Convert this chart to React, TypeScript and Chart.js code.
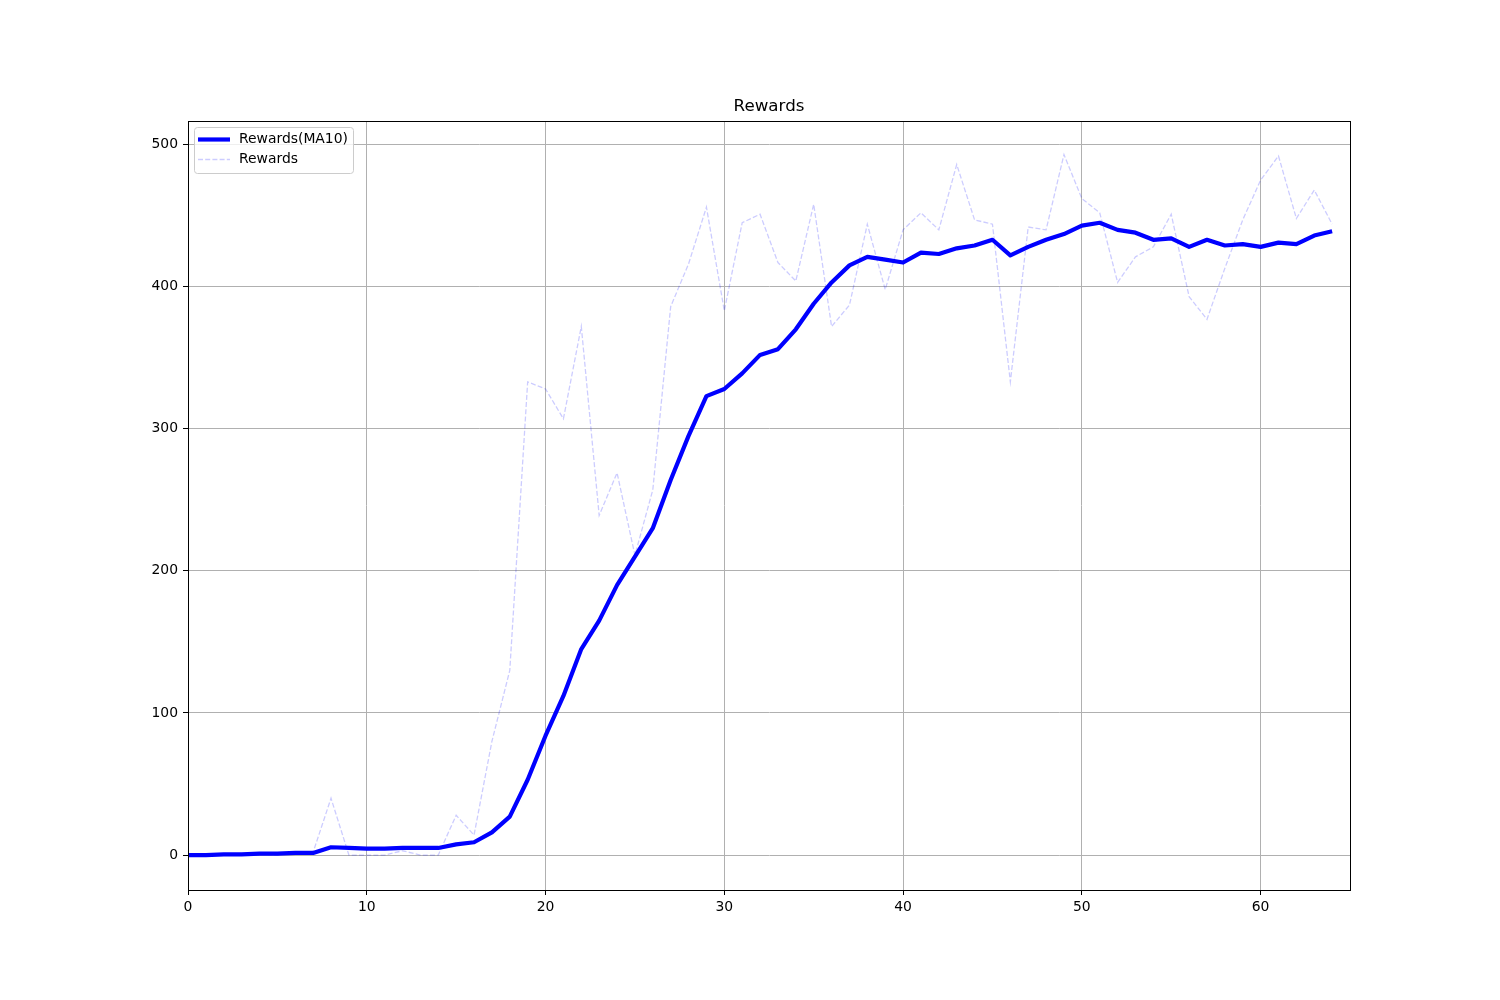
import React, { useEffect, useRef } from "react";
import { Chart, registerables } from "chart.js";

Chart.register(...registerables);

const episodes = [
  0, 1, 2, 3, 4, 5, 6, 7, 8, 9, 10, 11, 12, 13, 14, 15, 16, 17, 18, 19, 20, 21,
  22, 23, 24, 25, 26, 27, 28, 29, 30, 31, 32, 33, 34, 35, 36, 37, 38, 39, 40, 41,
  42, 43, 44, 45, 46, 47, 48, 49, 50, 51, 52, 53, 54, 55, 56, 57, 58, 59, 60, 61,
  62, 63, 64,
];

const rewards = [
  0, 0, 0, 0, 1, 0, 2, 2, 40, 0, 0, 0, 3, 0, 0, 28, 14, 80, 130, 333, 328, 307,
  372, 239, 269, 211, 257, 386, 416, 456, 383, 445, 451, 417, 404, 458, 372, 387,
  444, 398, 440, 452, 440, 486, 447, 444, 333, 442, 440, 493, 462, 452, 403, 421,
  428, 451, 393, 377, 413, 447, 475, 492, 448, 468, 444,
];

const rewardsMA10 = [
  0, 0, 0.5, 0.5, 1, 1, 1.5, 1.5, 5.5, 5, 4.5, 4.5, 5, 5, 5, 7.5, 9, 16, 27, 53,
  84, 112, 145, 165, 190, 210, 230, 264, 295, 323, 328, 339, 352, 356, 370, 388,
  403, 415, 421, 419, 417, 424, 423, 427, 429, 433, 422, 428, 433, 437, 443, 445,
  440, 438, 433, 434, 428, 433, 429, 430, 428, 431, 430, 436, 439,
];

const xTicks = [0, 10, 20, 30, 40, 50, 60];
const yTicks = [0, 100, 200, 300, 400, 500];
const xRange = [0, 65];
const yRange = [-24.6, 516.6];
const titleText = "Rewards";
const seriesNames = ["Rewards(MA10)", "Rewards"];

const FONT = '"DejaVu Sans", sans-serif';
const MA_COLOR = "#0000ff";
const RAW_COLOR = "rgba(0,0,255,0.2)";

const decorPlugin = {
  id: "decor",
  afterDraw(chart: any) {
    const { ctx, chartArea } = chart;
    const { left, right, top, bottom } = chartArea;
    ctx.save();
    // frame (spines)
    ctx.strokeStyle = "#000";
    ctx.lineWidth = 1;
    ctx.strokeRect(Math.round(left) + 0.5, Math.round(top) + 0.5, Math.round(right - left), Math.round(bottom - top));

    // title
    ctx.fillStyle = "#000";
    ctx.font = `16.7px ${FONT}`;
    ctx.textAlign = "center";
    ctx.textBaseline = "alphabetic";
    ctx.fillText(titleText, (left + right) / 2, top - 10);

    // legend
    const lx = left + 6.5;
    const ly = top + 6.5;
    const lw = 159;
    const lh = 46;
    ctx.beginPath();
    (ctx as any).roundRect(lx, ly, lw, lh, 3);
    ctx.fillStyle = "rgba(255,255,255,0.8)";
    ctx.fill();
    ctx.strokeStyle = "#cccccc";
    ctx.lineWidth = 1;
    ctx.stroke();

    const row1 = top + 18.5;
    const row2 = top + 38.5;
    const hx0 = left + 10;
    const hx1 = left + 42;
    ctx.beginPath();
    ctx.strokeStyle = MA_COLOR;
    ctx.lineWidth = 4.2;
    ctx.moveTo(hx0, row1);
    ctx.lineTo(hx1, row1);
    ctx.stroke();

    ctx.beginPath();
    ctx.strokeStyle = RAW_COLOR;
    ctx.lineWidth = 1.3;
    ctx.setLineDash([5, 2.2]);
    ctx.moveTo(hx0, row2);
    ctx.lineTo(hx1, row2);
    ctx.stroke();
    ctx.setLineDash([]);

    ctx.fillStyle = "#000";
    ctx.font = `13.9px ${FONT}`;
    ctx.textAlign = "left";
    ctx.textBaseline = "middle";
    ctx.fillText(seriesNames[0], left + 51, row1);
    ctx.fillText(seriesNames[1], left + 51, row2);
    ctx.restore();
  },
};

export default function App() {
  const canvasRef = useRef<HTMLCanvasElement | null>(null);

  useEffect(() => {
    document.body.style.margin = "0";
    const canvas = canvasRef.current;
    if (!canvas) return;
    const chart = new Chart(canvas, {
      type: "line",
      data: {
        datasets: [
          {
            label: seriesNames[0],
            data: rewardsMA10.map((v, i) => ({ x: episodes[i], y: v })),
            borderColor: MA_COLOR,
            backgroundColor: MA_COLOR,
            borderWidth: 4.2,
            pointRadius: 0,
            tension: 0,
            borderJoinStyle: "round",
            borderCapStyle: "butt",
          },
          {
            label: seriesNames[1],
            data: rewards.map((v, i) => ({ x: episodes[i], y: v })),
            borderColor: RAW_COLOR,
            backgroundColor: RAW_COLOR,
            borderWidth: 1.3,
            borderDash: [5, 2.2],
            pointRadius: 0,
            tension: 0,
          },
        ],
      },
      options: {
        responsive: false,
        animation: false,
        devicePixelRatio: 1,
        layout: { padding: { top: 121, right: 150, left: 0, bottom: 0 } },
        plugins: {
          legend: { display: false },
          title: { display: false },
          tooltip: { enabled: false },
        },
        scales: {
          x: {
            type: "linear",
            min: xRange[0],
            max: xRange[1],
            afterBuildTicks: (scale: any) => {
              scale.ticks = xTicks.map((v) => ({ value: v }));
            },
            afterFit: (scale: any) => {
              scale.height = 110;
            },
            grid: {
              color: "#b0b0b0",
              lineWidth: 1,
              tickColor: "#000",
              tickLength: 5,
              drawTicks: true,
            },
            border: { display: true, color: "#000", width: 1 },
            ticks: {
              color: "#000",
              font: { family: FONT, size: 13.9 },
              padding: 4,
              maxRotation: 0,
              autoSkip: false,
            },
          },
          y: {
            type: "linear",
            min: yRange[0],
            max: yRange[1],
            afterBuildTicks: (scale: any) => {
              scale.ticks = yTicks.map((v) => ({ value: v }));
            },
            afterFit: (scale: any) => {
              scale.width = 188;
            },
            grid: {
              color: "#b0b0b0",
              lineWidth: 1,
              tickColor: "#000",
              tickLength: 5,
              drawTicks: true,
            },
            border: { display: true, color: "#000", width: 1 },
            ticks: {
              color: "#000",
              font: { family: FONT, size: 13.9 },
              padding: 5,
              autoSkip: false,
            },
          },
        },
      },
      plugins: [decorPlugin],
    } as any);
    return () => chart.destroy();
  }, []);

  return (
    <div style={{ position: "absolute", left: 0, top: 0, width: 1500, height: 1000, background: "#fff" }}>
      <canvas ref={canvasRef} width={1500} height={1000} style={{ width: 1500, height: 1000, display: "block" }} />
    </div>
  );
}
